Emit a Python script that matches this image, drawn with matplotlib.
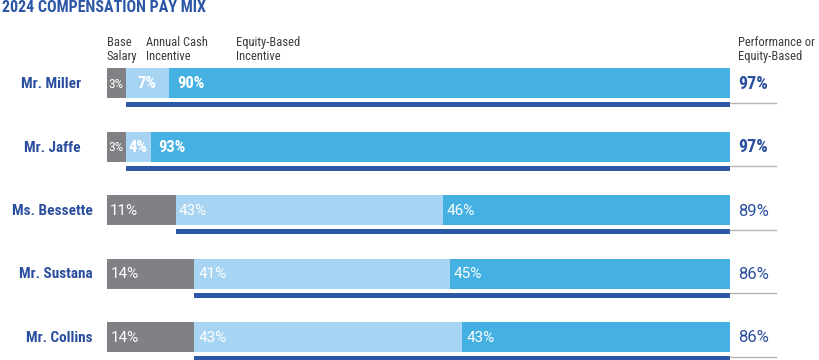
import matplotlib.pyplot as plt

plt.rcParams['font.family'] = ['Roboto Condensed', 'Roboto', 'DejaVu Sans']
plain = ['Roboto', 'DejaVu Sans']

# data
names = ["Mr. Miller", "Mr. Jaffe", "Ms. Bessette", "Mr. Sustana", "Mr. Collins"]
base_salary = [3, 3, 11, 14, 14]
annual_cash = [7, 4, 43, 41, 43]
equity_based = [90, 93, 46, 45, 43]
perf_or_equity = [97, 97, 89, 86, 86]
headers = ["Base\nSalary", "Annual Cash\nIncentive", "Equity-Based\nIncentive"]

# colours
c_gray = "#808184"
c_light = "#a6d4f2"
c_mid = "#45b1e3"
c_dark = "#2c56a6"
c_navy = "#2b4f9f"

# layout (pixels)
W, H = 820, 360
x0_px, px_per_pct = 107, 6.23
row0_y, row_step = 83, 63.5
bar_h = 30

def px2x(px):
    return (px - x0_px) / px_per_pct

fig = plt.figure(figsize=(W / 100, H / 100), dpi=100)
ax = fig.add_axes([0, 0, 1, 1])
ax.set_xlim(px2x(0), px2x(W))
ax.set_ylim(H, 0)
ax.axis("off")

bold_rows = [True, True, False, False, False]
name_right = [81, 81, 93, 93, 93]
pad = [8, 8, 3, 4, 4]

for i, name in enumerate(names):
    yc = row0_y + row_step * i
    segs = [base_salary[i], annual_cash[i], equity_based[i]]
    cols = [c_gray, c_light, c_mid]
    left = 0
    for v, c in zip(segs, cols):
        ax.barh(yc, v, left=left, height=bar_h, color=c, edgecolor="none")
        if v < 8:
            big = bold_rows[i] and c != c_gray
            ax.text(left + v / 2, yc + 1, f"{v}%", color="white",
                    ha="center", va="center",
                    fontsize=12 if big else 9.5,
                    fontweight="bold" if big else "normal")
        elif bold_rows[i]:
            ax.text(left + pad[i] / px_per_pct, yc + 1, f"{v}%", color="white",
                    ha="left", va="center", fontsize=12, fontweight="bold")
        else:
            ax.text(left + pad[i] / px_per_pct, yc + 1, f"{v}%", color="white",
                    ha="left", va="center", fontsize=11, family=plain)
        left += v

    # underline for performance / equity based part
    ub = base_salary[i]
    ax.barh(yc + 21.5, 100 - ub, left=ub, height=5, color=c_dark, edgecolor="none")
    ax.plot([100, px2x(776)], [yc + 19.5, yc + 19.5], color="#b4b4b4", lw=1)

    if bold_rows[i]:
        ax.text(px2x(738), yc + 1, f"{perf_or_equity[i]}%", color=c_navy,
                ha="left", va="center", fontsize=13, fontweight="bold")
    else:
        ax.text(px2x(738), yc + 1, f"{perf_or_equity[i]}%", color=c_navy,
                ha="left", va="center", fontsize=12, family=plain)
    ax.text(px2x(name_right[i]), yc + 1, name, color=c_navy,
            ha="right", va="center", fontsize=11, fontweight="bold")

# column headers
for hx, txt in zip([107, 146, 236], headers):
    ax.text(px2x(hx), 36, txt, color="#3c3c3c", ha="left", va="top",
            fontsize=9, linespacing=1.1)
ax.text(px2x(738), 36, "Performance or\nEquity-Based", color="#3c3c3c",
        ha="left", va="top", fontsize=9, linespacing=1.1)

fig.text(2 / W, 1 - 0.5 / H, "2024 COMPENSATION PAY MIX", color=c_dark,
         ha="left", va="top", fontsize=11.5, fontweight="bold")

fig.savefig("out.png", dpi=100)
